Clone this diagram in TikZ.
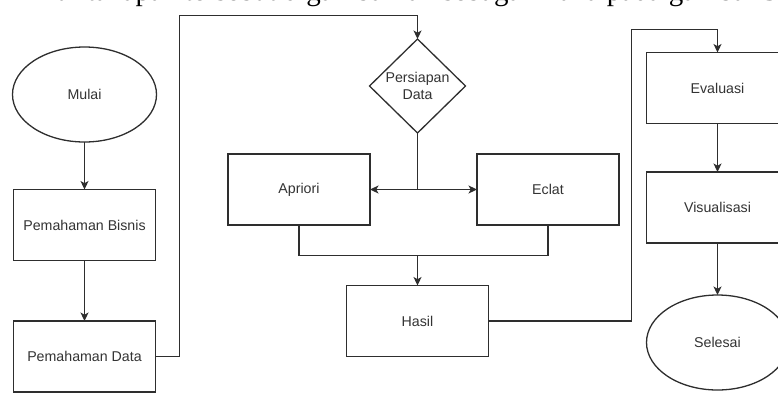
\documentclass[tikz,border=0pt]{standalone}
\usepackage{fontspec}
\setmainfont{Liberation Sans}
\newfontfamily\bodyserif{Liberation Serif}
\usetikzlibrary{arrows.meta,shapes.geometric}
\definecolor{ink}{HTML}{2E2E2E}
\definecolor{label}{HTML}{333333}
\begin{document}
\begin{tikzpicture}[x=1bp,y=-1bp,
  every node/.style={inner sep=0pt, outer sep=0pt},
  flowline/.style={draw=ink, line width=1.3bp},
  flowarrow/.style={flowline, -{Stealth[length=8.5bp,width=8bp,inset=2.2bp]}},
  labeltext/.style={font=\fontsize{14.2bp}{17bp}\selectfont, text=label, align=center},
  stepbox/.style={rectangle, draw=ink, line width=1.3bp, fill=white,
    minimum width=142bp, minimum height=71bp, labeltext},
  terminal/.style={ellipse, draw=ink, line width=1.3bp, fill=white,
    minimum width=144bp, minimum height=95bp, labeltext},
  decision/.style={diamond, draw=ink, line width=1.3bp, fill=white,
    minimum width=96bp, minimum height=94bp}
]
\useasboundingbox (0,0) rectangle (778,392);
\clip (0,0) rectangle (778,392);

% last line of the running text above the figure
\node[anchor=base west, font=\bodyserif\fontsize{29bp}{34bp}\selectfont]
  (bodyline) at (27,0.8) {Alur tahapan tersebut digambarkan sebagai mana pada gambar 3.1};

% left column
\node[terminal] (mulai)  at (84.5,94.5)  {Mulai};
\node[stepbox]  (bisnis) at (84.5,225)   {Pemahaman Bisnis};
\node[stepbox]  (data)   at (84.5,356.5) {Pemahaman Data};

% middle column
\node[decision] (persiapan) at (417.5,86) {};
\node[labeltext] (persiapanText) at (417.5,86) {Persiapan\\Data};
\node[stepbox]  (apriori) at (299,189.5) {Apriori};
\node[stepbox]  (eclat)   at (548,189.5) {Eclat};
\node[stepbox]  (hasil)   at (417.5,321) {Hasil};

% right column
\node[stepbox]  (evaluasi) at (717.5,88)    {Evaluasi};
\node[stepbox]  (visual)   at (717.5,207.5) {Visualisasi};
\node[terminal, minimum width=142bp] (selesai) at (717.5,342.5) {Selesai};

% routing points
\coordinate (upLeft)  at (179.5,15.5);
\coordinate (split)   at (417.5,189.5);
\coordinate (merge)   at (417.5,255.5);
\coordinate (upRight) at (631.5,29.5);

% connectors
\draw[flowarrow] (mulai) -- (bisnis);
\draw[flowarrow] (bisnis) -- (data);
\draw[flowarrow] (data.east) -| (upLeft) -| (persiapan.north);
\draw[flowline]  (persiapan.south) -- (split);
\draw[flowarrow] (split) -- (apriori.east);
\draw[flowarrow] (split) -- (eclat.west);
\draw[flowline]  (apriori.south) |- (merge);
\draw[flowline]  (eclat.south) |- (merge);
\draw[flowarrow] (merge) -- (hasil.north);
\draw[flowarrow] (hasil.east) -| (upRight) -| (evaluasi.north);
\draw[flowarrow] (evaluasi) -- (visual);
\draw[flowarrow] (visual) -- (selesai);
\end{tikzpicture}
\end{document}
